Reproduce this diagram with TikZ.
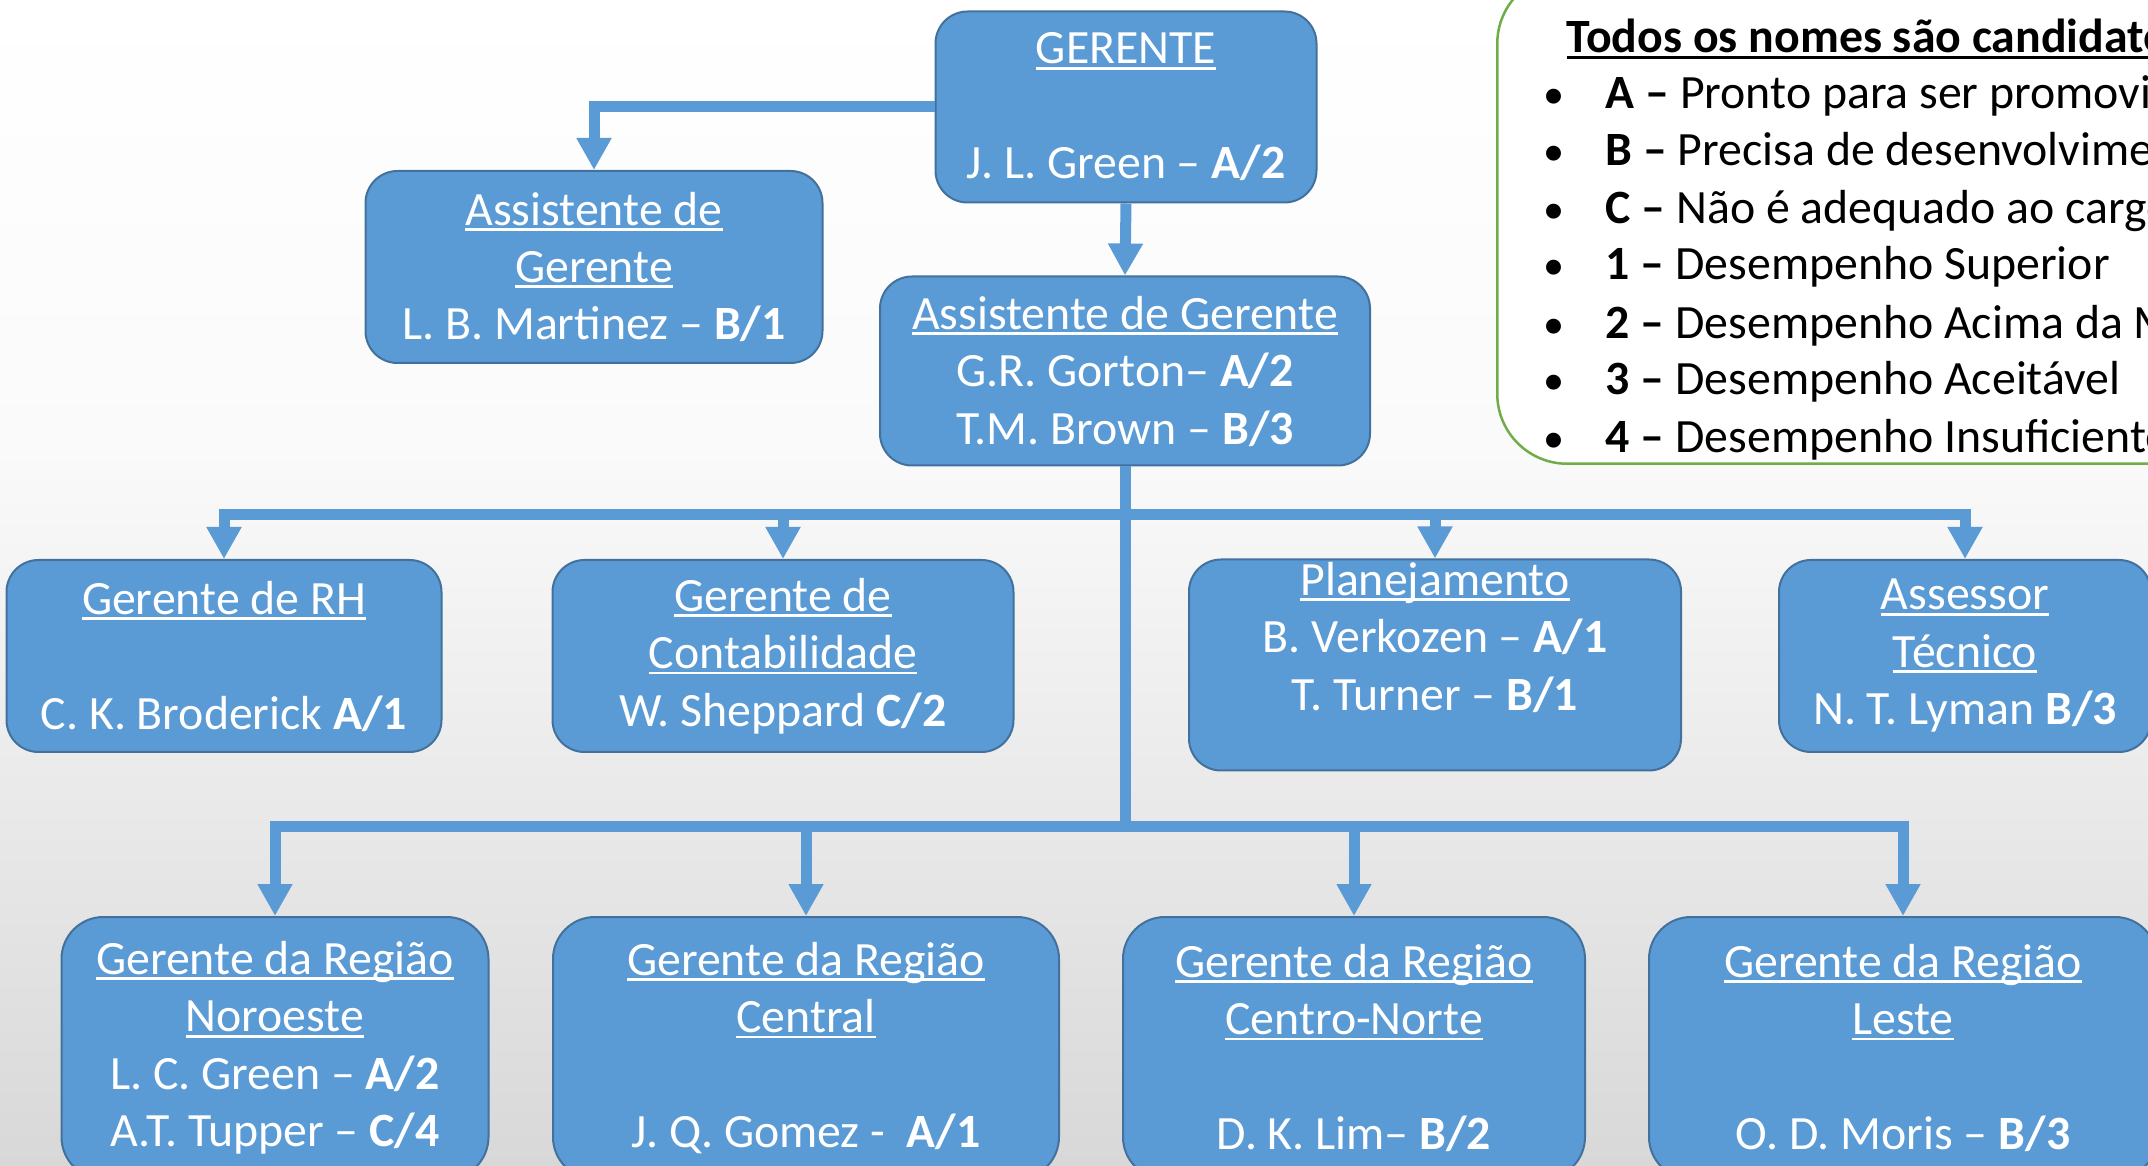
\documentclass[tikz,border=0pt]{standalone}
\usepackage{fontspec}
\setmainfont{Carlito}
\usetikzlibrary{arrows.meta,positioning,calc}
\definecolor{CargoBlue}{HTML}{5B9BD5}
\definecolor{CargoEdge}{HTML}{41719C}
\definecolor{LegendGreen}{HTML}{70AD47}
\definecolor{FundoClaro}{HTML}{FAFAFA}
\definecolor{FundoCinza}{HTML}{D8D8D8}
\newsavebox\titbox
\newcommand\sublinha[1]{\sbox\titbox{#1}\usebox\titbox\llap{\rule[-1.6pt]{\wd\titbox}{0.75pt}}}
\newcommand\legitem[2]{\makebox[6.2mm][l]{\fontsize{12}{12}\selectfont •}\textbf{#1 –} #2}
\tikzset{
  cargo/.style={rounded corners=3.2mm, draw=CargoEdge, line width=0.2mm, fill=CargoBlue, text=white, align=center, inner sep=0pt},
  regiao/.style={cargo, rounded corners=4.2mm, minimum height=26.2mm},
  legenda/.style={rounded corners=7mm, draw=LegendGreen, line width=0.25mm, fill=white},
  legtexto/.style={anchor=base west, inner sep=0pt, text=black},
  seta/.style={-{Triangle[width=3.3mm,length=3.2mm]}, line width=1.1mm, draw=CargoBlue},
  linha/.style={line width=1.1mm, draw=CargoBlue}
}

\begin{document}
\begin{tikzpicture}[x=0.1mm, y=-0.1mm, font=\fontsize{13.6}{16.36}\selectfont]
    \useasboundingbox (0,0) rectangle (2148,1166);
    \clip (0,0) rectangle (2148,1166);
    % fundo
    \shade[top color=white, bottom color=FundoClaro] (0,0) rectangle (2148,450);
    \shade[top color=FundoClaro, bottom color=FundoCinza] (0,450) rectangle (2148,1166);

    % legenda
    \node[legenda, minimum width=100mm, minimum height=49mm, anchor=south west] (legenda) at (1496,465) {};
    \node[legtexto] (legtitulo) at (1566,53) {\bfseries\sublinha{Todos os nomes são candidatos}};
    \node[legtexto] (legA) at (1543,109) {\legitem{A}{Pronto para ser promovido}};
    \node[legtexto] (legB) at (1543,166) {\legitem{B}{Precisa de desenvolvimento}};
    \node[legtexto] (legC) at (1543,224) {\legitem{C}{Não é adequado ao cargo}};
    \node[legtexto] (leg1) at (1543,280) {\legitem{1}{Desempenho Superior}};
    \node[legtexto] (leg2) at (1543,339) {\legitem{2}{Desempenho Acima da Média}};
    \node[legtexto] (leg3) at (1543,395) {\legitem{3}{Desempenho Aceitável}};
    \node[legtexto] (leg4) at (1543,453) {\legitem{4}{Desempenho Insuficiente}};

    % cargos
    \node[cargo, minimum width=38.1mm, minimum height=19.1mm] (gerente) at (1126,107) {\sublinha{GERENTE}\\~\\J. L. Green – \textbf{A/2}};
    \node[cargo, minimum width=45.7mm, minimum height=19.2mm] (assistL) at (594,267) {\sublinha{Assistente de}\\\sublinha{Gerente}\\L. B. Martinez – \textbf{B/1}};
    \node[cargo, minimum width=49mm, minimum height=18.9mm] (assistC) at (1125,371) {\sublinha{Assistente de Gerente}\\G.R. Gorton– \textbf{A/2}\\T.M. Brown – \textbf{B/3}};

    \node[cargo, minimum width=43.5mm, minimum height=19.2mm] (rh) at (224,656) {\sublinha{Gerente de RH}\\~\\C. K. Broderick \textbf{A/1}};
    \node[cargo, minimum width=46.1mm, minimum height=19.2mm] (contab) at (783,656) {\sublinha{Gerente de}\\\sublinha{Contabilidade}\\W. Sheppard \textbf{C/2}};
    \node[cargo, minimum width=49.2mm, minimum height=21.1mm] (planej) at (1435,665) {\sublinha{Planejamento}\\B. Verkozen – \textbf{A/1}\\T. Turner – \textbf{B/1}\\~};
    \node[cargo, minimum width=37.2mm, minimum height=19.2mm] (assessor) at (1965,656) {\sublinha{Assessor}\\\sublinha{Técnico}\\N. T. Lyman \textbf{B/3}};

    \node[regiao, minimum width=42.7mm] (noroeste) at (275,1048) {\sublinha{Gerente da Região}\\\sublinha{Noroeste}\\L. C. Green – \textbf{A/2}\\A.T. Tupper – \textbf{C/4}};
    \node[regiao, minimum width=50.6mm] (central) at (806,1048) {\sublinha{Gerente da Região}\\\sublinha{Central}\\~\\J. Q. Gomez -~ \textbf{A/1}};
    \node[regiao, minimum width=46.2mm] (centronorte) at (1354,1048) {\sublinha{Gerente da Região}\\\sublinha{Centro-Norte}\\~\\D. K. Lim– \textbf{B/2}};
    \node[regiao, minimum width=50.8mm] (leste) at (1903,1048) {\sublinha{Gerente da Região}\\\sublinha{Leste}\\~\\O. D. Moris – \textbf{B/3}};

    % ligacoes
    \coordinate (barra1) at (1125,515);
    \coordinate (barra2) at (1125,827);
    \draw[seta] (gerente.west) -| (assistL.north);
    \draw[seta] (gerente.south) -- (assistC.north);
    \draw[linha] (assistC.south) -- (barra2);
    \draw[seta] (barra1) -| (rh.north);
    \draw[seta] (barra1) -| (contab.north);
    \draw[seta] (barra1) -| (planej.north);
    \draw[seta] (barra1) -| (assessor.north);
    \draw[seta] (barra2) -| (noroeste.north);
    \draw[seta] (barra2) -| (central.north);
    \draw[seta] (barra2) -| (centronorte.north);
    \draw[seta] (barra2) -| (leste.north);
\end{tikzpicture}
\end{document}
